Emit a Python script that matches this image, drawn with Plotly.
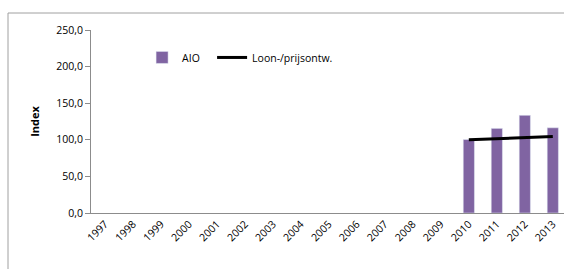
import plotly.graph_objects as go

years = [str(y) for y in range(1997, 2014)]
aio = [None] * 13 + [100.4, 115.6, 133.4, 116.4]
loon = [None] * 13 + [100.0, 101.5, 103.0, 104.6]
y_ticks = [0, 50, 100, 150, 200, 250]

fig = go.Figure()
fig.add_trace(go.Bar(x=years, y=aio, name="AIO", marker_color="#8064A2", width=0.4,
                     legend="legend"))
fig.add_trace(go.Scatter(x=years, y=loon, name="Loon-/prijsontw.", mode="lines",
                         line=dict(color="black", width=3), legend="legend2"))

leg_common = dict(orientation="h", y=0.85, xanchor="left", yanchor="middle",
                  font=dict(size=10.5), bgcolor="rgba(0,0,0,0)", itemwidth=30)

fig.update_layout(
    width=564, height=269,
    margin=dict(l=91, r=0, t=30, b=56),
    paper_bgcolor="white", plot_bgcolor="white",
    font=dict(family="Open Sans, Liberation Sans, sans-serif", size=10, color="black"),
    separators=",.",
    showlegend=True,
    legend=dict(x=0.108, **leg_common),
    legend2=dict(x=0.256, **leg_common),
    xaxis=dict(type="category", range=[-0.5, 16.4], showline=True, linecolor="#8c8c8c",
               linewidth=1, ticks="", tickangle=-45, showgrid=False,
               tickfont=dict(size=10.5)),
    yaxis=dict(range=[0, 250], tickvals=y_ticks, tickformat=".1f", showline=True,
               linecolor="#8c8c8c", linewidth=1, ticks="outside", ticklen=5,
               tickcolor="#8c8c8c", showgrid=False, zeroline=False,
               title=dict(text="<b>Index</b>", font=dict(size=11), standoff=14),
               tickfont=dict(size=10.5)),
    shapes=[dict(type="rect", xref="paper", yref="paper",
                 x0=(8 - 91) / 473, x1=1.05, y0=-0.5, y1=1 + 17 / 183,
                 line=dict(color="#a0a0a0", width=1), fillcolor="rgba(0,0,0,0)",
                 layer="below")],
)

fig.write_html("out.html", config={"displayModeBar": False},
               post_script="document.body.style.margin='0';document.body.style.overflow='hidden';")
